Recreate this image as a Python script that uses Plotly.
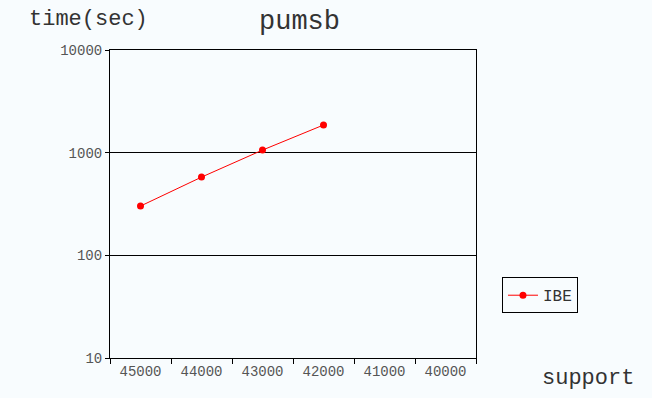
import plotly.graph_objects as go

categories = ["45000", "44000", "43000", "42000", "41000", "40000"]
support = ["45000", "44000", "43000", "42000"]
ibe_time = [302, 578, 1060, 1860]
y_ticks = [10, 100, 1000, 10000]
y_tick_text = ["10", "100", "1000", "10000"]

MONO = "Liberation Mono, Courier New, monospace"
BG = "#F8FCFE"

fig = go.Figure()
fig.add_trace(go.Scatter(
    x=support, y=ibe_time, name="IBE", mode="lines+markers",
    line=dict(color="#FF0000", width=1),
    marker=dict(color="#FF0000", size=7),
))

fig.update_layout(
    width=652, height=398,
    margin=dict(l=110, r=176, t=50, b=40),
    paper_bgcolor=BG, plot_bgcolor=BG,
    font=dict(family=MONO, color="#333333"),
    showlegend=True,
    legend=dict(x=1.071, y=0.262, xanchor="left", yanchor="top",
                bgcolor="rgba(0,0,0,0)", bordercolor="black", borderwidth=1,
                font=dict(family=MONO, size=16, color="#333333"),
                itemwidth=30, tracegroupgap=0),
    xaxis=dict(type="category", categoryorder="array", categoryarray=categories,
               range=[-0.5, 5.5], showgrid=False, zeroline=False,
               showline=True, linecolor="black", linewidth=1, mirror=True,
               ticks="outside", ticklen=5, tickcolor="black", tickson="boundaries",
               tickfont=dict(family=MONO, size=14, color="#555555")),
    yaxis=dict(type="log", range=[1, 4], tickvals=y_ticks, ticktext=y_tick_text,
               showgrid=True, gridcolor="black", gridwidth=1, zeroline=False,
               showline=True, linecolor="black", linewidth=1, mirror=True,
               ticks="outside", ticklen=4, tickcolor="black",
               tickfont=dict(family=MONO, size=14, color="#555555")),
    annotations=[
        dict(text="pumsb", xref="paper", yref="paper", x=0.519, y=1.091,
             xanchor="center", yanchor="middle", showarrow=False,
             font=dict(family=MONO, size=27, color="#333333")),
        dict(text="time(sec)", xref="paper", yref="paper", x=-0.227, y=1.1006,
             xanchor="left", yanchor="middle", showarrow=False,
             font=dict(family=MONO, size=22, color="#333333")),
        dict(text="support", xref="paper", yref="paper", x=1.175, y=-0.065,
             xanchor="left", yanchor="middle", showarrow=False,
             font=dict(family=MONO, size=22, color="#333333")),
    ],
)

fig.write_html(
    "out.html",
    config={"displayModeBar": False},
    post_script="document.body.style.margin='0';document.body.style.backgroundColor='%s';" % BG,
)
